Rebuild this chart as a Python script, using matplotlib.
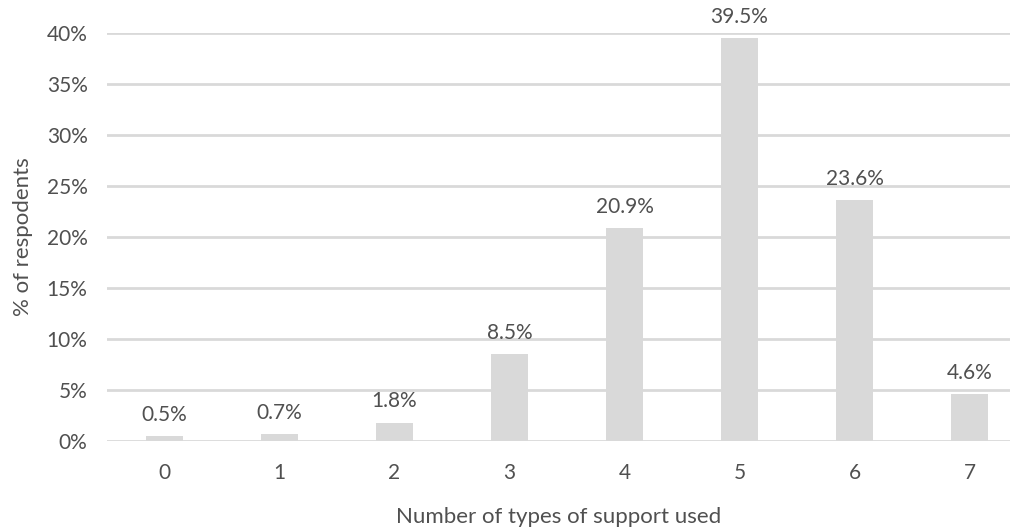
import matplotlib
matplotlib.use("Agg")
import matplotlib.pyplot as plt
from matplotlib.ticker import PercentFormatter

categories = ["0", "1", "2", "3", "4", "5", "6", "7"]
shares = [0.5, 0.7, 1.8, 8.5, 20.9, 39.5, 23.6, 4.6]
y_ticks = [0, 5, 10, 15, 20, 25, 30, 35, 40]

plt.rcParams["font.family"] = ["Lato", "DejaVu Sans"]
text_color = "#505050"
bar_color = "#d9d9d9"

fig = plt.figure(figsize=(10.19, 5.28), dpi=100)
ax = fig.add_axes([0.105, 0.165, 0.886, 0.7725])

x = list(range(len(categories)))
bars = ax.bar(x, shares, width=0.32, color=bar_color, zorder=2)
for xi, v in zip(x, shares):
    ax.text(xi, v + 1.1, f"{v:.1f}%", ha="center", va="bottom",
            fontsize=15, color=text_color)

ax.set_xlim(-0.5, 7.35)
ax.set_ylim(0, 40)
ax.set_yticks(y_ticks)
ax.yaxis.set_major_formatter(PercentFormatter(decimals=0))
ax.set_xticks(x)
ax.set_xticklabels(categories)
ax.grid(axis="y", color=bar_color, linewidth=2, zorder=0)
ax.set_axisbelow(True)
for s in ax.spines.values():
    s.set_visible(False)
ax.tick_params(axis="both", length=0, labelsize=15, labelcolor=text_color)
ax.tick_params(axis="x", pad=16)
ax.tick_params(axis="y", pad=14)
ax.set_xlabel("Number of types of support used", fontsize=16, color=text_color, labelpad=17)
ax.set_ylabel("% of respodents", fontsize=16, color=text_color, labelpad=10)

fig.savefig("out.png", dpi=100)
